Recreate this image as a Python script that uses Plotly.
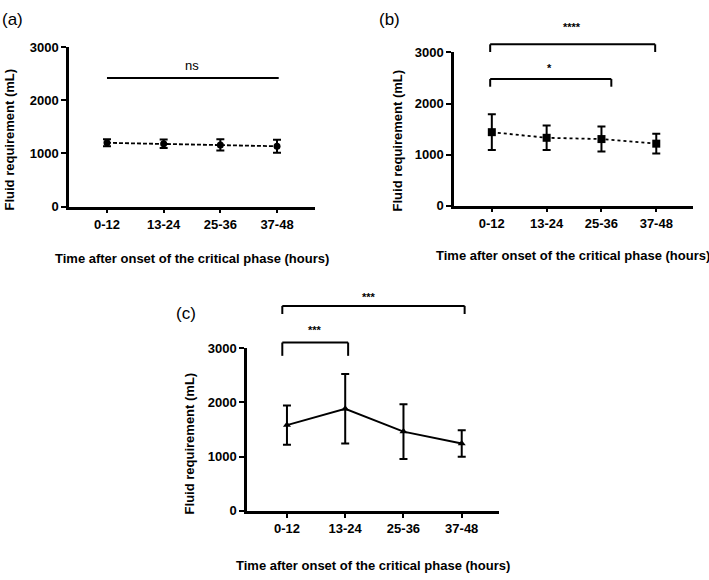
import plotly.graph_objects as go

categories = ["0-12", "13-24", "25-36", "37-48"]
x_idx = [0, 1, 2, 3]

a_mean = [1200, 1180, 1160, 1135]
a_err = [65, 80, 105, 120]
b_mean = [1440, 1330, 1305, 1215]
b_err = [350, 240, 245, 195]
c_mean = [1580, 1880, 1460, 1240]
c_err = [360, 640, 505, 245]

yticks = [0, 1000, 2000, 3000]
y_title = "Fluid requirement (mL)"
x_title = "Time after onset of the critical phase (hours)"

W, H = 709, 580
FONT = "Arial, Liberation Sans, sans-serif"

# panel geometry (pixels): x-left, x-right, y-bottom(0), y-top(3000)
panels = {
    "a": dict(xl=69, xr=315, yb=205, yt=41, xr_rng=[-0.67, 3.67]),
    "b": dict(xl=454, xr=693, yb=204, yt=46.7, xr_rng=[-0.69, 3.67]),
    "c": dict(xl=247, xr=499, yb=517.3, yt=350, xr_rng=[-0.686, 3.64]),
}

def fx(px):
    return px / W

def fy(py):
    return 1 - py / H

fig = go.Figure()

def add_series(mean, err, xa, ya, dash, width, symbol, msize):
    fig.add_trace(go.Scatter(
        x=x_idx, y=mean, xaxis=xa, yaxis=ya, mode="lines+markers",
        line=dict(color="black", width=width, dash=dash),
        marker=dict(symbol=symbol, size=msize, color="black"),
        error_y=dict(type="data", array=err, visible=True, color="black", thickness=2, width=4),
        showlegend=False, cliponaxis=False,
    ))

add_series(a_mean, a_err, "x", "y", "4px,2px", 1.8, "circle", 7)
add_series(b_mean, b_err, "x2", "y2", "dot", 1.8, "square", 8)
add_series(c_mean, c_err, "x3", "y3", "solid", 2, "triangle-up", 7)

layout_axes = {}
names = [("a", "xaxis", "yaxis", "y"), ("b", "xaxis2", "yaxis2", "y2"), ("c", "xaxis3", "yaxis3", "y3")]
for key, xk, yk, yref in names:
    p = panels[key]
    xd = [fx(p["xl"]), fx(p["xr"])]
    yd = [fy(p["yb"]), fy(p["yt"])]
    p["yd"] = yd
    layout_axes[xk] = dict(
        domain=xd, range=p["xr_rng"], anchor=yref, tickvals=x_idx, ticktext=categories,
        showline=True, linecolor="black", linewidth=2.5, ticks="outside", ticklen=4,
        tickwidth=2, tickcolor="black", showgrid=False, zeroline=False,
        tickfont=dict(family=FONT, size=13, color="black", weight="bold"),
    )
    layout_axes[yk] = dict(
        domain=yd, range=[0, 3000], anchor=xk.replace("axis", ""), tickvals=yticks,
        showline=True, linecolor="black", linewidth=2.5, ticks="outside", ticklen=5,
        tickwidth=2, tickcolor="black", showgrid=False, zeroline=False,
        tickfont=dict(family=FONT, size=13, color="black", weight="bold"),
    )

def py(key, val):
    p = panels[key]
    d0, d1 = p["yd"]
    return d0 + (d1 - d0) * val / 3000.0

shapes = []
annotations = []

def bracket(key, xref, x0, x1, ytop, ylow, legs=True):
    shapes.append(dict(type="line", xref=xref, yref="paper", x0=x0, x1=x1,
                       y0=py(key, ytop), y1=py(key, ytop), line=dict(color="black", width=2)))
    if legs:
        for xx in (x0, x1):
            shapes.append(dict(type="line", xref=xref, yref="paper", x0=xx, x1=xx,
                               y0=py(key, ytop), y1=py(key, ylow), line=dict(color="black", width=2)))

def label(key, xref, x, yv, text, size):
    annotations.append(dict(xref=xref, yref="paper", x=x, y=py(key, yv), text=text,
                            showarrow=False, font=dict(family=FONT, size=size, color="black"),
                            xanchor="center", yanchor="middle"))

# panel a significance
bracket("a", "x", 0, 3.03, 2415, 2415, legs=False)
label("a", "x", 1.5, 2660, "ns", 13)
# panel b
bracket("b", "x2", -0.03, 2.18, 2480, 2330)
label("b", "x2", 1.06, 2690, "<b>*</b>", 11)
bracket("b", "x2", -0.03, 2.98, 3160, 3010)
label("b", "x2", 1.46, 3490, "<b>****</b>", 11)
# panel c
bracket("c", "x3", -0.08, 1.05, 3100, 2855)
label("c", "x3", 0.48, 3330, "<b>***</b>", 11)
bracket("c", "x3", -0.08, 3.05, 3774, 3625)
label("c", "x3", 1.41, 3930, "<b>***</b>", 11)

# axis titles and panel labels (placed in pixels)
def txt(xp, yp, text, size, angle=0, bold=True):
    annotations.append(dict(xref="paper", yref="paper", x=fx(xp), y=fy(yp),
                            text=f"<b>{text}</b>" if bold else text, showarrow=False,
                            textangle=angle, xanchor="center", yanchor="middle",
                            font=dict(family=FONT, size=size, color="black")))

txt(9, 136, y_title, 13, -90)
txt(192, 258, x_title, 13)
txt(397, 137, y_title, 13, -90)
txt(573, 255, x_title, 13)
txt(189, 448, y_title, 13, -90)
txt(373, 573, x_title, 13)

txt(12, 13, "(a)", 17, bold=False)
txt(389, 13, "(b)", 17, bold=False)
txt(186, 315, "(c)", 17, bold=False)

fig.update_layout(
    width=W, height=H, margin=dict(l=0, r=0, t=0, b=0),
    paper_bgcolor="white", plot_bgcolor="white",
    shapes=shapes, annotations=annotations, **layout_axes,
)

fig.write_html("out.html", config={"displayModeBar": False},
               post_script="document.body.style.margin='0';document.body.style.padding='0';")
